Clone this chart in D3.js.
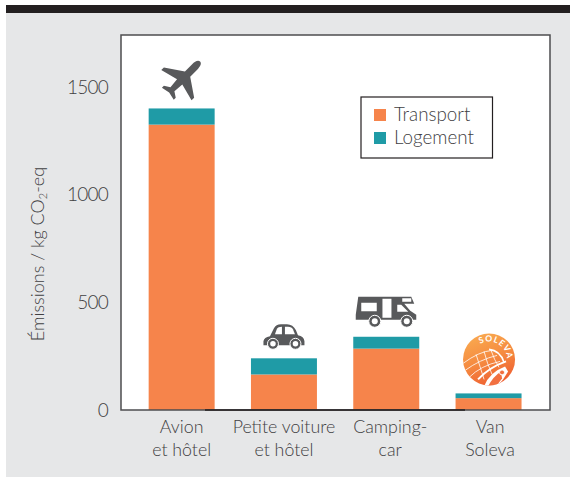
<!DOCTYPE html>
<html>
<head>
<meta charset="utf-8">
<script src="https://d3js.org/d3.v7.min.js"></script>
<style>
    html, body { margin: 0; padding: 0; background: #fff; }
    svg { display: block; }
    text { font-family: Lato, "Open Sans", sans-serif; font-weight: 300; fill: #414042; }
</style>
</head>
<body>
<div id="my_dataviz"></div>
<script>
    // Values
    const categories = ["Avion", "Petite voiture", "Camping-car", "Van Soleva"]
    const labelLines = [["Avion", "et hôtel"], ["Petite voiture", "et hôtel"], ["Camping-", "car"], ["Van", "Soleva"]]
    const labelShift = [0, 0, 4, 1.5] // the two last labels sit a bit right of their bar
    const transport = [1325, 165, 285, 55]
    const logement = [75, 75, 55, 22]
    const yTicks = [0, 500, 1000, 1500]
    const seriesNames = ["Transport", "Logement"]

    const COLORS = { Transport: "#f6844b", Logement: "#1f9ba6" }
    const GREY = "#58595b"

    const width = 570, height = 477
    const plot = { left: 121, right: 550, top: 35, bottom: 410 }

    const svg = d3.select("#my_dataviz").append("svg")
        .attr("width", width)
        .attr("height", height)

    // Background panel and the black strip on top
    svg.append("rect").attr("x", 6).attr("y", 13).attr("width", width - 6).attr("height", 464).attr("fill", "#e6e7e8")
    svg.append("rect").attr("x", 6).attr("y", 5).attr("width", width - 6).attr("height", 8).attr("fill", "#231f20")
    svg.append("rect").attr("x", plot.left).attr("y", plot.top)
        .attr("width", plot.right - plot.left).attr("height", plot.bottom - plot.top)
        .attr("fill", "#fff")

    const x = d3.scaleBand()
        .domain(categories)
        .range([130.5, 539.7])
        .paddingInner(0.355)
        .paddingOuter(0.1775)

    const y = d3.scaleLinear()
        .domain([0, 1741])
        .range([plot.bottom, plot.top])

    // Stack the two series
    const rows = categories.map((c, i) => ({ category: c, Transport: transport[i], Logement: logement[i] }))
    const stacked = d3.stack().keys(seriesNames)(rows)

    svg.append("g").selectAll("g")
        .data(stacked)
        .enter().append("g")
        .attr("fill", d => COLORS[d.key])
        .selectAll("rect")
        .data(d => d)
        .enter().append("rect")
        .attr("x", d => x(d.data.category))
        .attr("width", x.bandwidth())
        .attr("y", d => y(d[1]))
        .attr("height", d => y(d[0]) - y(d[1]))

    // Frame, drawn over the bars. Bottom line is darker in the middle
    svg.append("rect").attr("x", plot.left).attr("y", plot.top)
        .attr("width", plot.right - plot.left).attr("height", plot.bottom - plot.top)
        .attr("fill", "none").attr("stroke", "#4d4d4f").attr("stroke-width", 1.5)
    svg.append("line").attr("x1", 205).attr("x2", 465).attr("y1", plot.bottom).attr("y2", plot.bottom)
        .attr("stroke", "#231f20").attr("stroke-width", 1.5)

    // Y axis
    const yAxis = svg.append("g")
        .attr("transform", "translate(" + plot.left + ",0)")
        .call(d3.axisLeft(y).tickValues(yTicks).tickSize(0).tickPadding(13).tickFormat(d3.format("d")))
    yAxis.select(".domain").remove()
    yAxis.selectAll("text")
        .style("font-family", "Lato").style("font-size", "19px").style("letter-spacing", "-0.8px")

    svg.append("text")
        .attr("transform", "translate(44,254) rotate(-90)")
        .attr("text-anchor", "middle")
        .style("font-size", "18px")
        .html('Émissions / kg CO<tspan dy="3" style="font-size:11px">2</tspan><tspan dy="-3">-eq</tspan>')

    // X labels
    const xLabels = svg.append("g").selectAll("text")
        .data(categories)
        .enter().append("text")
        .attr("text-anchor", "middle")
        .style("font-size", "17.8px")
    xLabels.each(function (c, i) {
        const cx = x(c) + x.bandwidth() / 2 + labelShift[i]
        d3.select(this).selectAll("tspan")
            .data(labelLines[i])
            .enter().append("tspan")
            .attr("x", cx)
            .attr("y", (d, j) => 433 + j * 23)
            .text(d => d)
    })

    // Legend
    const legend = svg.append("g").attr("transform", "translate(361,97)")
    legend.append("rect").attr("width", 131.5).attr("height", 61)
        .attr("fill", "#fff").attr("stroke", "#231f20").attr("stroke-width", 1.2)
    seriesNames.forEach((name, i) => {
        legend.append("rect").attr("x", 13).attr("y", 12 + i * 23).attr("width", 12).attr("height", 12)
            .attr("fill", COLORS[name])
        legend.append("text").attr("x", 33).attr("y", 24 + i * 23)
            .style("font-size", "18.8px")
            .text(name)
    })

    // Icons above the bars, anchored on the middle of the bar and its top
    function barAnchor(i) {
        return [x(categories[i]) + x.bandwidth() / 2, y(transport[i] + logement[i])]
    }

    function wheel(g, cx, cy, r) {
        g.append("circle").attr("cx", cx).attr("cy", cy).attr("r", r).attr("fill", GREY).attr("stroke", "#fff").attr("stroke-width", 1)
        g.append("circle").attr("cx", cx).attr("cy", cy).attr("r", r * 0.5).attr("fill", "#fff")
    }

    // Plane
    let a = barAnchor(0)
    svg.append("path")
        .attr("transform", "translate(" + a[0] + "," + (a[1] - 28.5) + ") rotate(45) scale(0.93)")
        .attr("fill", GREY)
        .attr("d", "M0,-28 C3,-28 4,-24 4,-20 L4,-9 L23,4 L23,8 L4,3 L3,14 L9,18 L9,21 L0,19 L-9,21 L-9,18 L-3,14 L-4,3 L-23,8 L-23,4 L-4,-9 L-4,-20 C-4,-24 -3,-28 0,-28Z")

    // Car
    a = barAnchor(1)
    const car = svg.append("g").attr("transform", "translate(" + a[0] + "," + a[1] + ")")
    car.append("path").attr("fill", GREY)
        .attr("d", "M-20.5,-13 V-17 Q-20,-21 -14,-22 L-10,-30 Q-8,-34 -3,-34 H3 Q9,-34 12,-28 L14,-23 Q20,-22 20.5,-17 V-13 Z")
    car.append("path").attr("fill", "#fff").attr("d", "M-9,-24 L-7,-29.5 Q-6,-31.5 -2,-31.5 V-24 Z")
    car.append("path").attr("fill", "#fff").attr("d", "M1,-24 V-31.5 H4 Q8,-31.5 9,-29 L11,-24 Z")
    wheel(car, -11, -14.5, 5.5)
    wheel(car, 11.5, -14.5, 5.5)

    // Camper
    a = barAnchor(2)
    const camper = svg.append("g").attr("transform", "translate(" + a[0] + "," + a[1] + ")")
    camper.append("path").attr("fill", GREY)
        .attr("d", "M-28,-40 H25 L28,-33 H18 L24,-26 L30,-22 V-17 H-30.5 V-22 Z")
    camper.append("rect").attr("x", -25).attr("y", -34).attr("width", 15.5).attr("height", 8.5).attr("fill", "#fff")
    camper.append("rect").attr("x", -3.8).attr("y", -38).attr("width", 9).attr("height", 19).attr("fill", "#fff")
    camper.append("path").attr("fill", "#fff").attr("d", "M11,-32 H15 L22,-25 H11 Z")
    camper.append("rect").attr("x", 16).attr("y", -38.5).attr("width", 9).attr("height", 3.5).attr("fill", "#fff")
    wheel(camper, -11.5, -15.5, 6)
    wheel(camper, 20.5, -15.5, 6)

    // Soleva logo
    a = barAnchor(3)
    const defs = svg.append("defs")
    const grad = defs.append("linearGradient").attr("id", "soleva-grad")
        .attr("x1", "30%").attr("y1", "0%").attr("x2", "70%").attr("y2", "100%")
    grad.append("stop").attr("offset", "0%").attr("stop-color", "#f9a94f")
    grad.append("stop").attr("offset", "50%").attr("stop-color", "#f58a40")
    grad.append("stop").attr("offset", "100%").attr("stop-color", "#ee5b2f")
    defs.append("clipPath").attr("id", "soleva-clip").append("circle").attr("r", 26)
    defs.append("path").attr("id", "soleva-arc").attr("d", "M-9,-15.5 A18,18 0 0 1 17,6")

    const logo = svg.append("g").attr("transform", "translate(" + (a[0] + 0.5) + "," + (a[1] - 34) + ")")
    logo.append("circle").attr("r", 26).attr("fill", "url(#soleva-grad)")
    const inner = logo.append("g").attr("clip-path", "url(#soleva-clip)")
        .attr("fill", "none").attr("stroke", "#fff").attr("stroke-width", 0.8)
    // solar panel grid
    inner.append("path").attr("d", "M-26,4 Q-10,-8 3,-9")
    inner.append("path").attr("d", "M-24,11 Q-9,0 8,-4")
    inner.append("path").attr("d", "M-20,18 Q-8,6 11,2")
    inner.append("path").attr("d", "M-13,-5 Q-9,7 -5,20")
    inner.append("path").attr("d", "M-5,-8 Q-2,4 3,15")
    inner.append("path").attr("d", "M2,-9 Q5,0 10,8")
    inner.append("path").attr("stroke-width", 1.6).attr("d", "M0,-10 Q11,-9 15,3")
    // van
    inner.append("path").attr("stroke-width", 2).attr("d", "M-11,20 Q0,8 17,2")
    inner.append("path").attr("fill", "#fff").attr("stroke", "none").attr("d", "M-5,27 Q0,13 16,7 L19,12 L14,20 L8,27 Z")
    inner.append("path").attr("fill", "#f27040").attr("stroke", "none").attr("d", "M-1,27 Q4,17 12,12 L13,19 L7,27 Z")
    inner.append("circle").attr("cx", 13).attr("cy", 13).attr("r", 2.5).attr("fill", "#f27040").attr("stroke", "#fff").attr("stroke-width", 1)

    logo.append("text")
        .style("font-size", "8.5px").style("font-weight", 700).style("letter-spacing", "0.9px").style("fill", "#fff")
        .append("textPath").attr("href", "#soleva-arc").text("SOLEVA")
</script>
</body>
</html>
